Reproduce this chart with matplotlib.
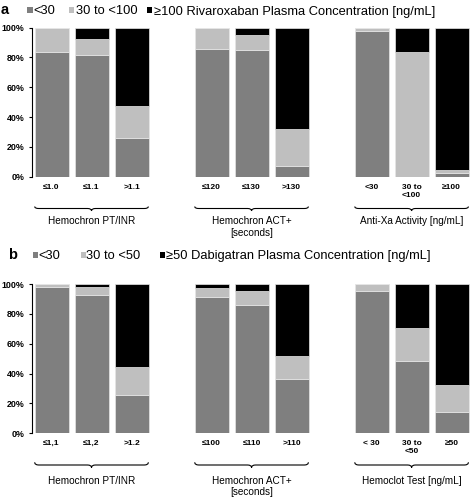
import matplotlib
matplotlib.use('Agg')
import matplotlib.pyplot as plt
from matplotlib.patches import Rectangle, PathPatch
from matplotlib.path import Path
from matplotlib.transforms import blended_transform_factory

plt.rcParams['font.family'] = ['Liberation Sans', 'DejaVu Sans']

# ---------------- data ----------------
a_ticks = ['≤1.0', '≤1.1', '>1.1', '≤120', '≤130', '>130', '<30', '30 to\n<100', '≥100']
a_low = [83.4, 81.8, 25.7, 85.6, 84.9, 7.4, 97.7, 0.0, 2.7]
a_mid = [16.6, 10.3, 21.9, 14.4, 10.1, 24.6, 2.3, 83.8, 1.6]
a_high = [0.0, 7.9, 52.4, 0.0, 5.0, 68.0, 0.0, 16.2, 95.7]
a_groups = ['Hemochron PT/INR', 'Hemochron ACT+\n[seconds]', 'Anti-Xa Activity [ng/mL]']
a_legend = ['<30', '30 to <100', '≥100 Rivaroxaban Plasma Concentration [ng/mL]']

b_ticks = ['≤1,1', '≤1,2', '>1.2', '≤100', '≤110', '>110', '< 30', '30 to\n<50', '≥50']
b_low = [97.8, 92.4, 25.7, 91.5, 86.1, 36.1, 95.1, 48.4, 14.3]
b_mid = [2.2, 5.8, 18.7, 5.5, 9.0, 15.6, 4.9, 21.9, 18.1]
b_high = [0.0, 1.8, 55.6, 3.0, 4.9, 48.3, 0.0, 29.7, 67.6]
b_groups = ['Hemochron PT/INR', 'Hemochron ACT+\n[seconds]', 'Hemoclot Test [ng/mL]']
b_legend = ['<30', '30 to <50', '≥50 Dabigatran Plasma Concentration [ng/mL]']

positions = [0, 1, 2, 4, 5, 6, 8, 9, 10]
group_spans = [(0, 2), (4, 6), (8, 10)]
colors = ['#7f7f7f', '#bfbfbf', '#000000']

W, H = 472, 497
fig = plt.figure(figsize=(W / 100, H / 100), dpi=100)


def fy(py):
    return 1 - py / H


def fx(px):
    return px / W


def panel(ax_top, ax_bot, ticks, low, mid, high, groups, brace_y, group_y, dy, gsize):
    ax = fig.add_axes([fx(31.7), fy(ax_bot), fx(470 - 31.7), (ax_bot - ax_top) / H])
    bw = 0.85
    ax.bar(positions, low, width=bw, color=colors[0], edgecolor='#e6e6e6', linewidth=0.5)
    ax.bar(positions, mid, width=bw, bottom=low, color=colors[1], edgecolor='#e6e6e6', linewidth=0.5)
    bot2 = [l + m for l, m in zip(low, mid)]
    ax.bar(positions, high, width=bw, bottom=bot2, color=colors[2], edgecolor='#e6e6e6', linewidth=0.5)
    ax.set_xlim(-0.495, 10.46)
    ax.set_ylim(0, 100)
    ax.set_yticks([0, 20, 40, 60, 80, 100])
    ax.set_yticklabels(['0%', '20%', '40%', '60%', '80%', '100%'], fontsize=6.4, fontweight='bold')
    ax.tick_params(axis='y', length=2.3, width=0.8, pad=3.0)
    ax.set_xticks(positions)
    ax.set_xticklabels(ticks, fontsize=6.0, fontweight='bold', linespacing=1.25)
    ax.tick_params(axis='x', length=0, pad=5.0)
    for s in ['top', 'right', 'bottom']:
        ax.spines[s].set_visible(False)
    ax.spines['left'].set_linewidth(0.8)

    tr = blended_transform_factory(ax.transData, fig.transFigure)
    ytop, yflat, ytip = brace_y
    d = 0.1
    for (g0, g1), label in zip(group_spans, groups):
        x0 = g0 - 0.42
        x1 = g1 + 0.42
        xm = (x0 + x1) / 2
        verts = [(x0, fy(ytop)), (x0, fy(yflat)), (x0 + d, fy(yflat)),
                 (xm - d, fy(yflat)), (xm, fy(yflat)), (xm, fy(ytip)),
                 (xm, fy(ytip)), (xm, fy(yflat)), (xm + d, fy(yflat)),
                 (x1 - d, fy(yflat)), (x1, fy(yflat)), (x1, fy(ytop))]
        codes = [Path.MOVETO, Path.CURVE3, Path.CURVE3,
                 Path.LINETO, Path.CURVE3, Path.CURVE3,
                 Path.MOVETO, Path.CURVE3, Path.CURVE3,
                 Path.LINETO, Path.CURVE3, Path.CURVE3]
        pp = PathPatch(Path(verts, codes), transform=tr, fill=False,
                       edgecolor='black', linewidth=0.8, clip_on=False)
        fig.add_artist(pp)
        for i, ln in enumerate(label.split('\n')):
            fig.text((g0 + g1) / 2, fy(group_y + i * dy), ln, transform=tr,
                     ha='center', va='center', fontsize=gsize)
    return ax


panel(27.5, 176.7, a_ticks, a_low, a_mid, a_high, a_groups,
      (206.5, 208.5, 211.0), 220.5, 12.5, 7.2)
panel(284.0, 433.3, b_ticks, b_low, b_mid, b_high, b_groups,
      (462.3, 465.0, 467.7), 480.5, 11.5, 7.2)


def legend(letter, letter_x, baseline, sq_x, text_x, labels):
    fig.text(fx(letter_x), fy(baseline), letter, fontsize=10.5, fontweight='bold',
             ha='left', va='baseline')
    for sx, tx, lab, c in zip(sq_x, text_x, labels, colors):
        fig.add_artist(Rectangle((fx(sx), fy(baseline - 1.5)), 5.5 / W, 5.5 / H,
                                 transform=fig.transFigure, facecolor=c, edgecolor='none'))
        fig.text(fx(tx), fy(baseline), lab, fontsize=9.3, ha='left', va='baseline')


legend('a', 1.0, 14.5, [27.0, 68.5, 146.7], [33.0, 76.5, 154.5], a_legend)
legend('b', 8.0, 259.0, [32.5, 80.5, 159.5], [38.0, 86.5, 166.5], b_legend)

fig.savefig('out.png', dpi=100, facecolor='white')
